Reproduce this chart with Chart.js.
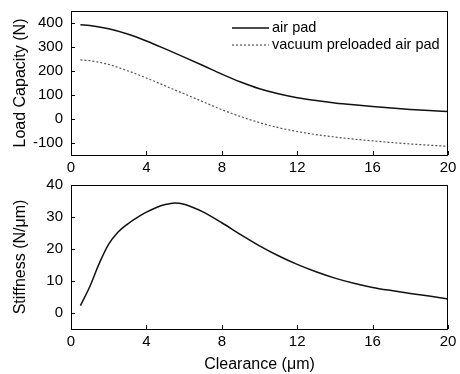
<!DOCTYPE html>
<html lang="en">
<head>
<meta charset="UTF-8">
<title>Load capacity and stiffness</title>
<script src="https://cdn.jsdelivr.net/npm/chart.js"></script>
<style>
    html, body { margin: 0; padding: 0; background: #fff; }
    .wrap { position: relative; width: 460px; height: 374px; }
    .panel { position: absolute; left: 0; width: 460px; }
    #top { top: 0; height: 178px; }
    #bottom { top: 165px; height: 209px; }
</style>
</head>
<body>
<div class="wrap">
    <div class="panel" id="top"><canvas id="loadChart"></canvas></div>
    <div class="panel" id="bottom"><canvas id="stiffChart"></canvas></div>
</div>
<script>
// values
const loadClearance = [0.5, 1, 2, 3, 4, 5, 6, 7, 8, 9, 10, 11, 12, 13, 14, 15, 16, 17, 18, 19, 20];
const airPad = [393, 390, 376, 354, 325, 292, 258, 223, 187, 154, 126, 105, 89, 77, 67, 59, 52, 46, 40, 35, 31];
const vacuumPad = [246, 243, 227, 201, 171, 138, 105, 72, 39, 10, -15, -36, -52, -65, -75, -84, -91, -98, -104, -109, -114];

const stiffClearance = [0.5, 1, 1.5, 2, 2.5, 3, 3.5, 4, 4.5, 5, 5.5, 6, 7, 8, 9, 10, 11, 12, 13, 14, 15, 16, 17, 18, 19, 20];
const stiffness = [2.3, 8.3, 15.5, 21.5, 25.3, 27.8, 29.8, 31.5, 32.9, 33.9, 34.4, 34.0, 31.6, 28.2, 24.5, 21.0, 17.9, 15.2, 12.9, 10.9, 9.3, 8.0, 7.0, 6.1, 5.3, 4.4];

const xTicks = [0, 4, 8, 12, 16, 20];
const loadTicks = [-100, 0, 100, 200, 300, 400];
const stiffTicks = [0, 10, 20, 30, 40];

const FONT = "'Liberation Sans', Arial, sans-serif";

function pts(xs, ys) {
    return xs.map((x, i) => ({ x: x, y: ys[i] }));
}

// box around plot area + inward tick marks
const framePlugin = {
    id: 'frame',
    afterDraw(chart) {
        const ctx = chart.ctx;
        const a = chart.chartArea;
        ctx.save();
        ctx.strokeStyle = '#000';
        ctx.lineWidth = 1;
        ctx.strokeRect(a.left + 0.5, a.top + 0.5, a.right - a.left - 1, a.bottom - a.top);
        ctx.beginPath();
        chart.scales.x.ticks.forEach(t => {
            const px = Math.round(chart.scales.x.getPixelForValue(t.value)) + 0.5;
            ctx.moveTo(px, a.bottom); ctx.lineTo(px, a.bottom - 4);
        });
        chart.scales.y.ticks.forEach(t => {
            const py = Math.round(chart.scales.y.getPixelForValue(t.value)) + 0.5;
            ctx.moveTo(a.left, py); ctx.lineTo(a.left + 4, py);
        });
        ctx.stroke();
        ctx.restore();
    }
};

// legend drawn inside the top panel
const legendPlugin = {
    id: 'insideLegend',
    afterDraw(chart) {
        const ctx = chart.ctx;
        ctx.save();
        ctx.font = '14.5px ' + FONT;
        ctx.fillStyle = '#000';
        ctx.textBaseline = 'middle';
        chart.data.datasets.forEach((ds, i) => {
            const y = 28 + i * 17;
            ctx.beginPath();
            ctx.strokeStyle = ds.borderColor;
            ctx.lineWidth = ds.borderWidth;
            ctx.setLineDash(ds.borderDash || []);
            ctx.moveTo(232, y); ctx.lineTo(269, y);
            ctx.stroke();
            ctx.setLineDash([]);
            ctx.fillText(ds.label, 272, y);
        });
        ctx.restore();
    }
};

function axes(yMin, yMax, yTicks, yTitle, xTitle, xHeight) {
    return {
        x: {
            type: 'linear', min: 0, max: 20,
            afterBuildTicks: s => { s.ticks = xTicks.map(v => ({ value: v })); },
            afterFit: s => { s.height = xHeight; s.paddingLeft = 0; s.paddingRight = 0; },
            grid: { display: false, drawTicks: false },
            border: { display: false },
            ticks: { color: '#000', padding: 4, font: { family: FONT, size: 15 } },
            title: { display: !!xTitle, text: xTitle, color: '#000', padding: { top: 2, bottom: 0 },
                     font: { family: FONT, size: 16 } }
        },
        y: {
            min: yMin, max: yMax,
            afterBuildTicks: s => { s.ticks = yTicks.map(v => ({ value: v })); },
            afterFit: s => { s.width = 71; s.paddingTop = 0; s.paddingBottom = 0; },
            grid: { display: false, drawTicks: false },
            border: { display: false },
            ticks: { color: '#000', padding: 8, font: { family: FONT, size: 15 } },
            title: { display: true, text: yTitle, color: '#000', padding: { top: 11, bottom: 0 },
                     font: { family: FONT, size: 16 } }
        }
    };
}

new Chart(document.getElementById('loadChart'), {
    type: 'line',
    data: {
        datasets: [
            { label: 'air pad', data: pts(loadClearance, airPad), borderColor: '#111', borderWidth: 1.5,
              pointRadius: 0, cubicInterpolationMode: 'monotone', fill: false },
            { label: 'vacuum preloaded air pad', data: pts(loadClearance, vacuumPad), borderColor: '#555',
              borderWidth: 1.2, borderDash: [2, 2], pointRadius: 0, cubicInterpolationMode: 'monotone', fill: false }
        ]
    },
    options: {
        responsive: true, maintainAspectRatio: false, animation: false,
        layout: { padding: { top: 11, right: 12, left: 0, bottom: 0 } },
        plugins: { legend: { display: false }, tooltip: { enabled: false } },
        scales: axes(-150, 450, loadTicks, 'Load Capacity (N)', '', 23)
    },
    plugins: [framePlugin, legendPlugin]
});

new Chart(document.getElementById('stiffChart'), {
    type: 'line',
    data: {
        datasets: [
            { label: 'stiffness', data: pts(stiffClearance, stiffness), borderColor: '#111', borderWidth: 1.5,
              pointRadius: 0, cubicInterpolationMode: 'monotone', fill: false }
        ]
    },
    options: {
        responsive: true, maintainAspectRatio: false, animation: false,
        layout: { padding: { top: 20, right: 12, left: 0, bottom: 0 } },
        plugins: { legend: { display: false }, tooltip: { enabled: false } },
        scales: axes(-5, 40, stiffTicks, 'Stiffness (N/\u03bcm)', 'Clearance (\u03bcm)', 45)
    },
    plugins: [framePlugin]
});
</script>
</body>
</html>
